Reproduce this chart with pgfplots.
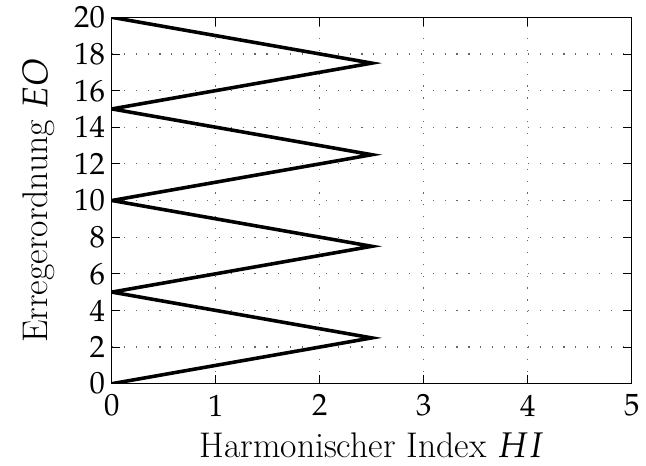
\documentclass[border=0pt]{standalone}
\usepackage{mathpazo}
\usepackage{pgfplots}
\pgfplotsset{compat=1.18}
\begin{document}
\begin{tikzpicture}
\begin{axis}[
    name=ax,
    scale only axis,
    width=262.5pt, height=185pt,
    xmin=0, xmax=5, ymin=0, ymax=20,
    xtick={0,1,...,5}, ytick={0,2,...,20},
    grid=major,
    major grid style={black!60, line width=0.6pt, dash pattern=on 0.6pt off 5.4pt},
    tick align=inside,
    tick style={black, thin},
    axis line style={black, thin},
    ticklabel style={font=\fontsize{15.5}{18}\selectfont},
    xticklabel style={yshift=-2pt},
    label style={font=\fontsize{18}{21}\selectfont},
    xlabel={Harmonischer Index $HI$},
    ylabel={Erregerordnung $EO$},
    xlabel style={yshift=-1.5pt},
    ylabel style={yshift=3pt},
]
\addplot[black, line width=1.8pt, mark=none] coordinates {
(0,0) (2.5,2.5) (0,5) (2.5,7.5) (0,10) (2.5,12.5) (0,15) (2.5,17.5) (0,20)};
\end{axis}
\path (ax.south west) ++(-56.5pt,-41.5pt) rectangle ++(323pt,235pt);
\end{tikzpicture}
\end{document}
